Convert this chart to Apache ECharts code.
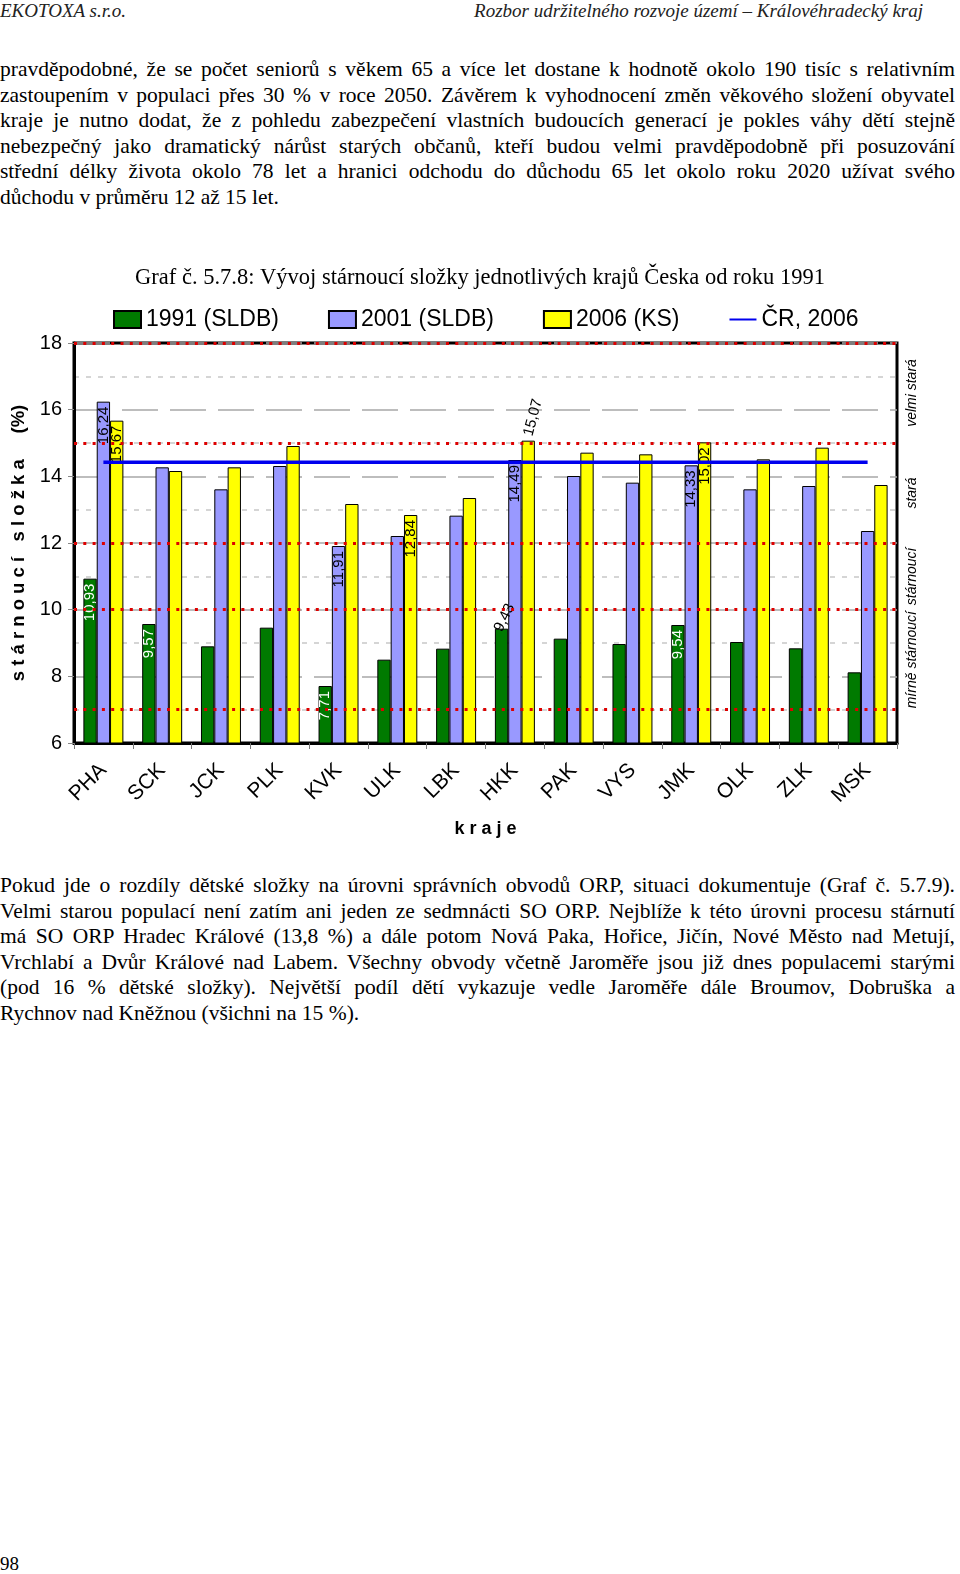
<!DOCTYPE html>
<html>
<head>
<meta charset="utf-8">
<script src="https://cdn.jsdelivr.net/npm/echarts@6/dist/echarts.min.js"></script>
<style>
  html, body { margin: 0; padding: 0; background: #fff; }
  body { width: 960px; height: 1574px; position: relative; overflow: hidden; }
  .hdr { position: absolute; top: 0; font-family: "Liberation Serif", "Times New Roman", serif; font-style: italic; font-size: 19px; line-height: 22px; color: #222; white-space: nowrap; }
  .para { position: absolute; left: 0; width: 955px; font-family: "Liberation Serif", "Times New Roman", serif; font-size: 21.5px; color: #000; }
  .para div { height: 25.6px; line-height: 25.6px; white-space: nowrap; text-align: justify; text-align-last: justify; }
  .para div.last { text-align: left; text-align-last: left; }
  #chart { position: absolute; left: 0; top: 250px; width: 960px; height: 600px; }
  .pg { position: absolute; left: 0; top: 1552px; font-family: "Liberation Serif", serif; font-size: 19px; line-height: 24px; }
</style>
</head>
<body>
<div class="hdr" style="left:0">EKOTOXA s.r.o.</div>
<div class="hdr" style="right:37px">Rozbor udržitelného rozvoje území – Královéhradecký kraj</div>

<div class="para" style="top:57px">
  <div>pravděpodobné, že se počet seniorů s věkem 65 a více let dostane k hodnotě okolo 190 tisíc s relativním</div>
  <div>zastoupením v populaci přes 30 % v roce 2050. Závěrem k vyhodnocení změn věkového složení obyvatel</div>
  <div>kraje je nutno dodat, že z pohledu zabezpečení vlastních budoucích generací je pokles váhy dětí stejně</div>
  <div>nebezpečný jako dramatický nárůst starých občanů, kteří budou velmi pravděpodobně při posuzování</div>
  <div>střední délky života okolo 78 let a hranici odchodu do důchodu 65 let okolo roku 2020 užívat svého</div>
  <div class="last">důchodu v průměru 12 až 15 let.</div>
</div>

<div id="chart"></div>

<div class="para" style="top:873px">
  <div>Pokud jde o rozdíly dětské složky na úrovni správních obvodů ORP, situaci dokumentuje (Graf č. 5.7.9).</div>
  <div>Velmi starou populací není zatím ani jeden ze sedmnácti SO ORP. Nejblíže k této úrovni procesu stárnutí</div>
  <div>má SO ORP Hradec Králové (13,8 %) a dále potom Nová Paka, Hořice, Jičín, Nové Město nad Metují,</div>
  <div>Vrchlabí a Dvůr Králové nad Labem. Všechny obvody včetně Jaroměře jsou již dnes populacemi starými</div>
  <div>(pod 16 % dětské složky). Největší podíl dětí vykazuje vedle Jaroměře dále Broumov, Dobruška a</div>
  <div class="last">Rychnov nad Kněžnou (všichni na 15 %).</div>
</div>

<div class="pg">98</div>

<script>
// ---------------- data ----------------
const categories = ['PHA', 'SCK', 'JCK', 'PLK', 'KVK', 'ULK', 'LBK', 'HKK', 'PAK', 'VYS', 'JMK', 'OLK', 'ZLK', 'MSK'];
const v1991 = [10.93, 9.57, 8.90, 9.46, 7.71, 8.50, 8.83, 9.43, 9.13, 8.97, 9.54, 9.03, 8.84, 8.12];
const v2001 = [16.24, 14.27, 13.61, 14.31, 11.91, 12.21, 12.82, 14.49, 14.01, 13.81, 14.33, 13.61, 13.71, 12.36];
const v2006 = [15.67, 14.16, 14.27, 14.91, 13.17, 12.84, 13.35, 15.07, 14.71, 14.66, 15.02, 14.51, 14.86, 13.74];
const crValue = 14.42;
const crSeries = categories.map(() => crValue);
const seriesNames = ['1991 (SLDB)', '2001 (SLDB)', '2006 (KS)', 'ČR, 2006'];
const yMin = 6, yMax = 18, yStep = 2;
const thresholds = [7, 10, 12, 15, 18];
const bandNames = ['mírně stárnoucí', 'stárnoucí', 'stará', 'velmi stará'];
const bandFrom = [7, 10, 12, 15];
const bandTo = [10, 12, 15, 18];
const labelled1991 = ['PHA', 'SCK', 'KVK', 'HKK', 'JMK'];
const labelled2001 = ['PHA', 'KVK', 'HKK', 'JMK'];
const labelled2006 = ['PHA', 'ULK', 'HKK', 'JMK'];

// ---------------- styling ----------------
const SANS = 'Liberation Sans, Arial, sans-serif';
const fmt = v => v.toFixed(2).replace('.', ',');
const outside = { '1991 (SLDB)|HKK': { rotate: 64, offset: [-8, 0] }, '2006 (KS)|HKK': { rotate: 75, offset: [0, 0] } };

function buildData(name, values, labelled, textColor) {
  return values.map((v, i) => {
    const cat = categories[i];
    if (!labelled.includes(cat)) return v;
    const key = name + '|' + cat;
    if (outside[key] !== undefined) {
      return { value: v, label: { show: true, position: 'top', rotate: outside[key].rotate, offset: outside[key].offset, align: 'left', verticalAlign: 'middle', distance: 5, color: '#000', fontSize: 15, fontFamily: SANS, formatter: p => fmt(p.value) } };
    }
    return { value: v, label: { show: true, position: 'insideTop', rotate: 90, align: 'right', verticalAlign: 'middle', distance: 5, color: textColor, fontSize: 15, fontFamily: SANS, formatter: p => fmt(p.value) } };
  });
}

const barBase = { type: 'bar', barGap: '0%', barCategoryGap: '32%', z: 2 };

const chart = echarts.init(document.getElementById('chart'), null, { renderer: 'canvas' });
const gridLeft = 74, gridRight = 63;
const option = {
  animation: false,
  backgroundColor: '#fff',
  title: {
    text: 'Graf č. 5.7.8: Vývoj stárnoucí složky jednotlivých krajů Česka od roku 1991',
    left: 'center', top: 12,
    textStyle: { fontFamily: 'Liberation Serif, Times New Roman, serif', fontSize: 22.5, fontWeight: 'normal', color: '#000' }
  },
  legend: {
    left: 108, top: 53, itemWidth: 27, itemHeight: 17, itemGap: 49,
    textStyle: { fontFamily: SANS, fontSize: 23, color: '#000' },
    data: [
      { name: seriesNames[0], icon: 'rect' },
      { name: seriesNames[1], icon: 'rect' },
      { name: seriesNames[2], icon: 'rect' },
      { name: seriesNames[3], itemStyle: { opacity: 0 } }
    ]
  },
  grid: { left: gridLeft, right: gridRight, top: 93, bottom: 107, show: true, borderColor: '#000', borderWidth: 3, backgroundColor: 'transparent' },
  xAxis: {
    type: 'category', data: categories,
    name: 'k r a j e', nameLocation: 'middle', nameGap: 77,
    nameTextStyle: { fontFamily: SANS, fontSize: 18, fontWeight: 'bold', color: '#000' },
    axisLine: { lineStyle: { color: '#000', width: 3 } },
    axisTick: { show: true, length: 6, lineStyle: { color: '#777', width: 1 } },
    axisLabel: { rotate: 45, margin: 24, fontFamily: 'Liberation Sans Narrow, Liberation Sans, Arial, sans-serif', fontSize: 21, color: '#000' }
  },
  yAxis: {
    type: 'value', min: yMin, max: yMax, interval: yStep,
    name: 's t á r n o u c í   s l o ž k a     (%)', nameLocation: 'middle', nameGap: 37,
    nameTextStyle: { fontFamily: SANS, fontSize: 18.5, fontWeight: 'bold', color: '#000' },
    axisLine: { show: true, lineStyle: { color: '#000', width: 3 } },
    axisTick: { show: true, length: 6, lineStyle: { color: '#888' } },
    axisLabel: { fontFamily: SANS, fontSize: 20, color: '#000', margin: 12 },
    splitLine: { show: true, lineStyle: { color: '#a8a8a8', width: 1.5, type: [36, 12] } },
    minorTick: { show: false, splitNumber: 2 },
    minorSplitLine: { show: true, lineStyle: { color: '#c8c8c8', width: 1.5, type: [5, 7] } }
  },
  series: [
    Object.assign({}, barBase, {
      name: seriesNames[0], z: 3, data: buildData(seriesNames[0], v1991, labelled1991, '#fff'),
      itemStyle: { color: '#007a00', borderColor: '#000', borderWidth: 1 }
    }),
    Object.assign({}, barBase, {
      name: seriesNames[1], data: buildData(seriesNames[1], v2001, labelled2001, '#000'),
      itemStyle: { color: '#9999ff', borderColor: '#000', borderWidth: 1 }
    }),
    Object.assign({}, barBase, {
      name: seriesNames[2], data: buildData(seriesNames[2], v2006, labelled2006, '#000'),
      itemStyle: { color: '#ffff00', borderColor: '#000', borderWidth: 1 }
    }),
    {
      name: seriesNames[3], type: 'line', data: crSeries, symbol: 'none', z: 5,
      lineStyle: { color: '#0000ee', width: 3.5 }, itemStyle: { color: '#0000ee' },
      markLine: {
        silent: true, symbol: 'none', z: 6,
        label: { show: false },
        lineStyle: { color: '#dd0000', width: 3, type: [3, 6.3] },
        data: thresholds.map(t => ({ yAxis: t }))
      }
    }
  ]
};
chart.setOption(option);

// band labels on the right side, positioned through the y axis scale
const xRight = chart.getWidth() - gridRight + 15;
chart.setOption({
  graphic: bandNames.map((n, i) => {
    const y = chart.convertToPixel({ yAxisIndex: 0 }, (bandFrom[i] + bandTo[i]) / 2);
    return {
      type: 'text', x: xRight, y: y, rotation: Math.PI / 2, z: 10,
      style: { text: n, fontFamily: SANS, fontSize: 14, fontStyle: 'italic', fill: '#000', align: 'center', verticalAlign: 'middle' }
    };
  })
});
</script>
</body>
</html>
